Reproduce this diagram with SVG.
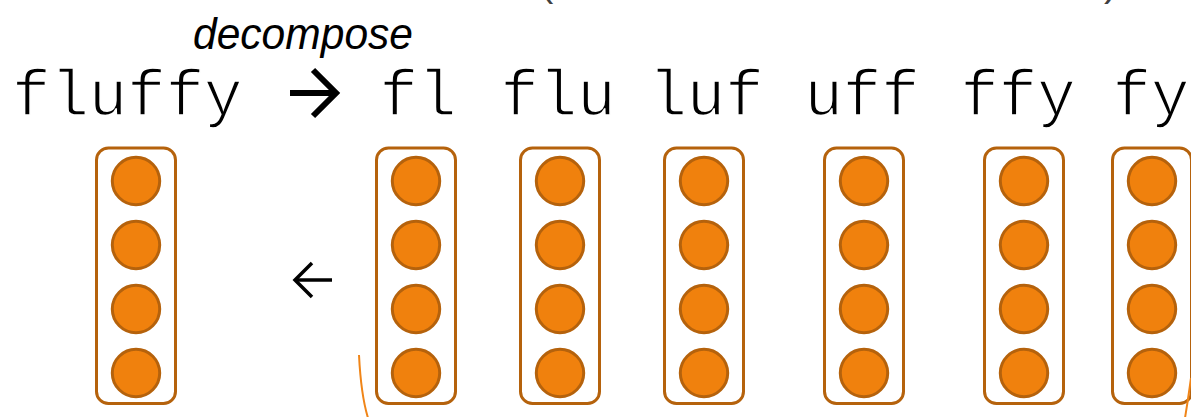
<svg xmlns="http://www.w3.org/2000/svg" width="1191" height="417" viewBox="0 0 1191 417">
  <defs>
    <style>
      .mono { font-family: "Liberation Mono", "Courier New", monospace; font-size: 64px; fill: #000; stroke: #fff; stroke-width: 1.6px; paint-order: fill; }
      .label { font-family: "Liberation Sans", Arial, sans-serif; font-style: italic; font-size: 45px; fill: #000; }
      .paren { font-family: "Liberation Sans", Arial, sans-serif; font-size: 40px; fill: #404040; }
      .box { fill: #fff; stroke: #B5620C; stroke-width: 3; }
      .unit { fill: #F0810D; stroke: #B5620C; stroke-width: 3; }
      .arrow { fill: none; stroke: #000; stroke-linecap: butt; stroke-linejoin: miter; }
      .brace { fill: none; stroke: #F08518; stroke-width: 2; }
    </style>
    <!-- one embedding vector: a rounded frame holding four units -->
    <g id="vec">
      <rect class="box" x="-39.5" y="148" width="79" height="255.5" rx="12"/>
      <circle class="unit" cx="0" cy="181" r="23.7"/>
      <circle class="unit" cx="0" cy="245" r="23.7"/>
      <circle class="unit" cx="0" cy="309" r="23.7"/>
      <circle class="unit" cx="0" cy="373" r="23.7"/>
    </g>
  </defs>

  <rect width="1191" height="417" fill="#fff"/>

  <!-- tails of a bracketed line above the top edge -->
  <text class="paren" x="540" y="-4">(</text>
  <text class="paren" x="1104" y="-4">)</text>

  <!-- heading -->
  <text class="label" x="193" y="49" textLength="220" lengthAdjust="spacingAndGlyphs">decompose</text>

  <!-- word and its character n-grams -->
  <g id="word-fluffy">
    <text class="mono" x="12" y="115">fluffy</text>
    <use href="#vec" x="136"/>
  </g>
  <g id="ngram-fl">
    <text class="mono" x="418" y="115" text-anchor="middle">fl</text>
    <use href="#vec" x="416"/>
  </g>
  <g id="ngram-flu">
    <text class="mono" x="558" y="115" text-anchor="middle">flu</text>
    <use href="#vec" x="560"/>
  </g>
  <g id="ngram-luf">
    <text class="mono" x="706" y="115" text-anchor="middle">luf</text>
    <use href="#vec" x="704"/>
  </g>
  <g id="ngram-uff">
    <text class="mono" x="862" y="115" text-anchor="middle">uff</text>
    <use href="#vec" x="864"/>
  </g>
  <g id="ngram-ffy">
    <text class="mono" x="1018" y="115" text-anchor="middle">ffy</text>
    <use href="#vec" x="1024"/>
  </g>
  <g id="ngram-fy">
    <text class="mono" x="1151" y="115" text-anchor="middle">fy</text>
    <use href="#vec" x="1152"/>
  </g>

  <!-- connectors -->
  <g id="connectors">
    <!-- decompose arrow -->
    <path class="arrow" stroke-width="6" d="M290,93 H333"/>
    <path class="arrow" stroke-width="6" d="M313,70 L336,93 L313,116"/>
    <!-- sum back into the word vector -->
    <path class="arrow" stroke-width="3.5" d="M295,280 H332"/>
    <path class="arrow" stroke-width="3.5" d="M312,263 L295,280 L312,297"/>
  </g>

  <!-- brace under the n-gram vectors -->
  <g id="brace">
    <path class="brace" d="M359,355 Q361,395 368,418"/>
    <path class="brace" d="M1191,378 Q1188,400 1185,418"/>
  </g>
</svg>
